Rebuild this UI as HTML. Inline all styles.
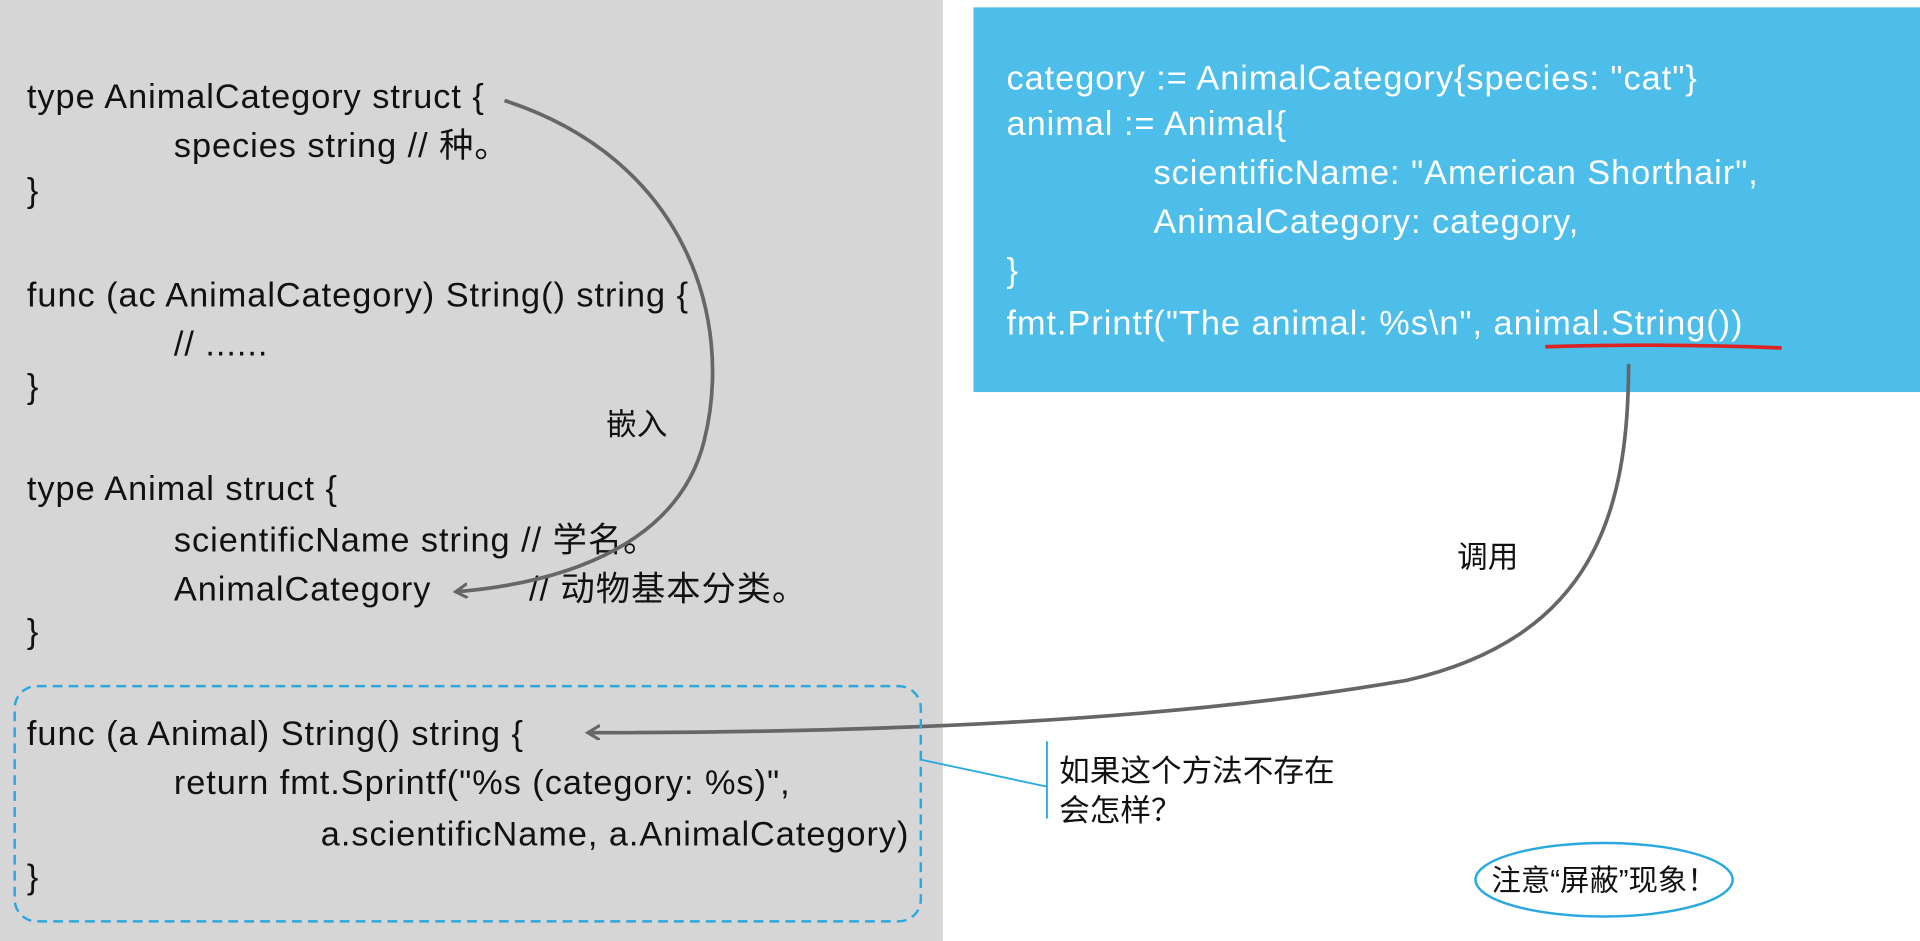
<!DOCTYPE html>
<html><head><meta charset="utf-8"><style>
html,body{margin:0;padding:0;background:#fff;width:1920px;height:941px;overflow:hidden}
svg{display:block}
text{font-family:"Liberation Sans","Noto Sans CJK SC",sans-serif;font-size:28px;letter-spacing:0.8px}
text.cn{font-size:25px;letter-spacing:0}
</style></head><body>
<svg width="1920" height="941" viewBox="0 0 1568 768" preserveAspectRatio="none" xmlns="http://www.w3.org/2000/svg">
<defs>
<marker id="ah" markerWidth="14" markerHeight="14" refX="10" refY="6" orient="auto" markerUnits="userSpaceOnUse">
<path d="M0,0 L10,6 L0,12" fill="none" stroke="#666" stroke-width="2.5"/>
</marker>
</defs>
<rect x="0" y="0" width="770" height="768" fill="#d6d6d6"/>
<rect x="795" y="6" width="773" height="314" fill="#4dbde9"/>
<g fill="#111">
<text x="22" y="88">type AnimalCategory struct {</text>
<text x="142" y="128">species string // 种。</text>
<text x="22" y="165">}</text>
<text x="22" y="250">func (ac AnimalCategory) String() string {</text>
<text x="142" y="290">// ......</text>
<text x="22" y="325">}</text>
<text x="22" y="408">type Animal struct {</text>
<text x="142" y="450">scientificName string // 学名。</text>
<text x="142" y="490">AnimalCategory</text>
<text x="432" y="490">// 动物基本分类。</text>
<text x="22" y="525">}</text>
<text x="22" y="608">func (a Animal) String() string {</text>
<text x="142" y="648">return fmt.Sprintf("%s (category: %s)",</text>
<text x="262" y="690">a.scientificName, a.AnimalCategory)</text>
<text x="22" y="725">}</text>
<text class="cn" x="495" y="355">嵌入</text>
<text class="cn" x="1190" y="463">调用</text>
<text class="cn" x="865" y="638">如果这个方法不存在</text>
<text class="cn" x="865" y="670">会怎样？</text>
</g>
<g fill="#fff">
<text x="822" y="73">category := AnimalCategory{species: "cat"}</text>
<text x="822" y="110">animal := Animal{</text>
<text x="942" y="150">scientificName: "American Shorthair",</text>
<text x="942" y="190">AnimalCategory: category,</text>
<text x="822" y="230">}</text>
<text x="822" y="273">fmt.Printf("The animal: %s\n", animal.String())</text>
</g>
<path d="M1262,283 Q1360,280 1455,284" stroke="#d22" stroke-width="3" fill="none"/>
<path d="M412,82 C560,130 600,260 575,360 C555,440 470,475 372,483" stroke="#666" stroke-width="3" fill="none" marker-end="url(#ah)"/>
<path d="M1330,297 C1330,420 1300,520 1150,555 C950,590 700,598 480,598" stroke="#666" stroke-width="3" fill="none" marker-end="url(#ah)"/>
<rect x="12" y="560" width="740" height="192" rx="18" fill="none" stroke="#29a9e0" stroke-width="2" stroke-dasharray="8,5"/>
<path d="M752,620 L855,642 M855,605 L855,668" stroke="#29a9e0" stroke-width="1.5" fill="none"/>
<ellipse cx="1310" cy="718" rx="105" ry="30" fill="none" stroke="#29a9e0" stroke-width="2"/>
<text class="cn" x="1310" y="727" text-anchor="middle" fill="#111" style="font-size:24px">注意“屏蔽”现象！</text>
</svg>
</body></html>
